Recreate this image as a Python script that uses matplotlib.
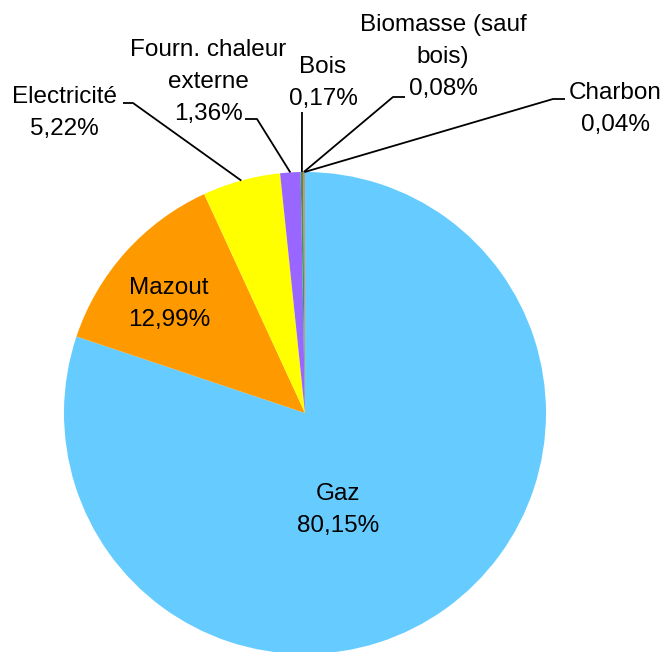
import numpy as np
import matplotlib
matplotlib.use("Agg")
import matplotlib.pyplot as plt

plt.rcParams['font.family'] = ['Liberation Sans', 'DejaVu Sans']

# data
categories = ['Gaz', 'Mazout', 'Electricité', 'Fourn. chaleur\nexterne', 'Bois',
              'Biomasse (sauf\nbois)', 'Charbon']
shares = [80.15, 12.99, 5.22, 1.36, 0.17, 0.08, 0.04]
colors = ['#66CCFF', '#FF9900', '#FFFF00', '#9966FF', '#339966', '#FF6600', '#808080']

W, H = 665, 652
cx, cy, r = 305, 413, 241   # pixel coords, y down

def Y(y):
    return H - y

fig = plt.figure(figsize=(W / 100, H / 100), dpi=100)
ax = fig.add_axes([0, 0, 1, 1])

wedges, _ = ax.pie(shares, colors=colors, startangle=90, counterclock=False,
                   center=(cx, Y(cy)), radius=r, frame=True,
                   wedgeprops=dict(linewidth=0))
ax.set_xlim(0, W)
ax.set_ylim(0, H)
ax.set_aspect('auto')
ax.axis('off')

def pct(v):
    return ('%.2f%%' % v).replace('.', ',')

# label layout: (text x, last-line baseline y, leader path near label) in px
layout = {
    0: (338, 532, None),
    1: (169, 326, None),
    2: (64, 135, [(123, 103), (133, 103)]),
    3: (208, 120, [(245, 119), (257, 119)]),
    4: (323, 105, [(302, 112)]),
    5: (443, 95, [(405, 97), (393, 97)]),
    6: (615, 131, [(565, 99), (553, 99)]),
}

for i, w in enumerate(wedges):
    tx, ty, path = layout[i]
    txt = categories[i] + '\n' + pct(shares[i])
    ax.text(tx, Y(ty), txt, ha='center', va='baseline', fontsize=17.5,
            linespacing=1.58, color='black')
    if path is not None:
        a = np.deg2rad((w.theta1 + w.theta2) / 2)
        px = cx + r * np.cos(a)
        py = Y(cy) + r * np.sin(a)
        xs = [p[0] for p in path] + [px]
        ys = [Y(p[1]) for p in path] + [py]
        ax.plot(xs, ys, color='black', lw=1.3, solid_capstyle='butt')

plt.savefig('out.png', dpi=100)
